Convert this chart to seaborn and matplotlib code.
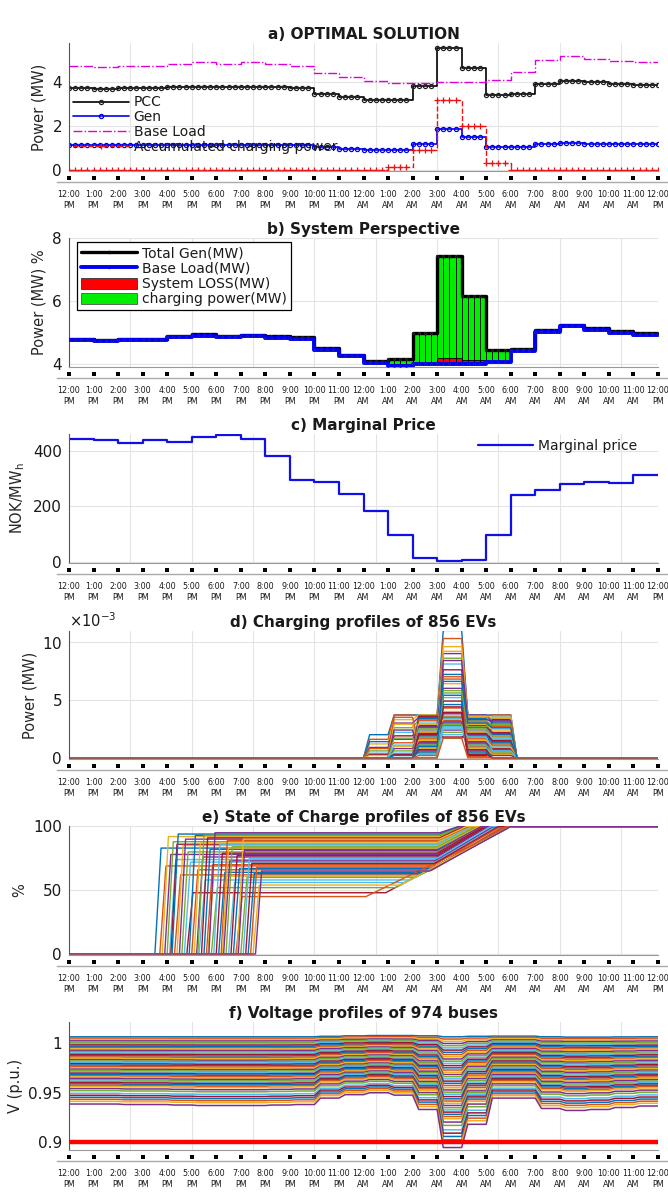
import numpy as np
import pandas as pd
import matplotlib
matplotlib.use('Agg')
import matplotlib.pyplot as plt
import seaborn as sns
from matplotlib.lines import Line2D
from matplotlib.patches import Patch
from matplotlib.ticker import ScalarFormatter

sns.set_style('white')
plt.rcParams['font.family'] = ['DejaVu Sans']
plt.rcParams['text.color'] = '#1a1a1a'

# ---------------- data ----------------
tick_times = ['12:00', '1:00', '2:00', '3:00', '4:00', '5:00', '6:00', '7:00', '8:00', '9:00',
              '10:00', '11:00', '12:00', '1:00', '2:00', '3:00', '4:00', '5:00', '6:00', '7:00',
              '8:00', '9:00', '10:00', '11:00', '12:00']
tick_ampm = ['PM'] * 12 + ['AM'] * 12 + ['PM']
hours = list(range(25))

# a) optimal solution (hourly, MW)
pcc = [3.74, 3.72, 3.73, 3.73, 3.77, 3.80, 3.79, 3.80, 3.78, 3.75, 3.47, 3.33,
       3.21, 3.21, 3.82, 5.56, 4.68, 3.42, 3.49, 3.92, 4.08, 4.01, 3.93, 3.88]
gen = [1.12, 1.12, 1.12, 1.12, 1.13, 1.14, 1.14, 1.14, 1.13, 1.12, 1.03, 0.97,
       0.91, 0.91, 1.17, 1.86, 1.52, 1.03, 1.03, 1.18, 1.22, 1.20, 1.18, 1.17]
base_load_a = [4.76, 4.71, 4.76, 4.76, 4.86, 4.91, 4.86, 4.91, 4.85, 4.77, 4.44, 4.26,
               4.06, 3.98, 3.98, 4.02, 4.03, 4.09, 4.47, 5.02, 5.20, 5.09, 5.00, 4.94]
charging_a = [0, 0, 0, 0, 0, 0, 0, 0, 0, 0, 0, 0,
              0, 0.12, 0.91, 3.20, 2.02, 0.30, 0, 0, 0, 0, 0, 0]

# b) system perspective (hourly, MW)
base_load_b = [4.75, 4.72, 4.75, 4.75, 4.85, 4.89, 4.85, 4.88, 4.83, 4.79, 4.45, 4.24,
               4.03, 3.94, 3.98, 4.00, 4.01, 4.06, 4.42, 5.02, 5.19, 5.08, 4.99, 4.92]
loss_b = [0.05, 0.05, 0.05, 0.05, 0.05, 0.05, 0.05, 0.05, 0.05, 0.05, 0.04, 0.04,
          0.05, 0.04, 0.06, 0.20, 0.12, 0.04, 0.04, 0.05, 0.06, 0.05, 0.05, 0.05]
charging_b = [0, 0, 0, 0, 0, 0, 0, 0, 0, 0, 0, 0,
              0, 0.16, 0.93, 3.22, 2.02, 0.33, 0, 0, 0, 0, 0, 0]

# c) marginal price (NOK/MWh, hourly)
price = [443, 439, 431, 439, 434, 451, 458, 444, 384, 294, 289, 244,
         185, 96, 14, 1, 7, 96, 240, 261, 282, 288, 284, 312]

# d) EV charging power, x1e-3 MW, hours 12AM..5AM
ev_power = [
    [2.0, 3.7, 3.7, 11.0, 3.7, 3.7], [1.6, 3.7, 3.6, 10.3, 3.6, 3.7],
    [1.2, 3.3, 3.7, 9.6, 3.5, 3.4], [0.9, 3.0, 3.5, 9.0, 3.7, 3.1],
    [0.6, 2.6, 3.3, 8.6, 3.2, 2.8], [0.4, 2.2, 3.0, 8.1, 3.0, 2.5],
    [0.3, 1.9, 2.8, 7.6, 2.8, 2.2], [1.4, 1.6, 2.6, 7.2, 2.6, 2.0],
    [0.8, 1.3, 2.4, 6.8, 2.4, 1.8], [0.2, 1.0, 2.2, 6.4, 2.2, 1.6],
    [0.0, 0.8, 2.0, 6.0, 2.0, 1.4], [0.0, 0.6, 1.8, 5.6, 1.8, 1.2],
    [0.0, 0.4, 1.6, 5.2, 1.6, 1.0], [0.0, 0.3, 1.4, 4.9, 1.4, 0.8],
    [0.0, 0.2, 1.2, 4.6, 1.2, 0.6], [0.0, 3.5, 1.0, 4.3, 1.0, 0.4],
    [0.0, 2.9, 0.8, 4.0, 0.8, 0.3], [0.0, 2.4, 0.6, 3.8, 0.6, 0.2],
    [0.0, 1.7, 0.4, 3.6, 0.4, 0.0], [0.0, 1.1, 0.3, 3.4, 0.3, 3.6],
    [0.0, 0.0, 3.6, 3.2, 0.2, 3.3], [0.0, 0.0, 3.4, 3.0, 3.4, 3.0],
    [0.0, 0.0, 3.2, 2.8, 3.1, 2.7], [0.0, 0.0, 2.9, 2.6, 2.9, 2.4],
    [0.0, 0.0, 2.7, 2.4, 2.7, 2.1], [0.0, 0.0, 2.5, 2.2, 2.5, 1.9],
    [0.0, 0.0, 2.3, 2.0, 2.3, 1.7], [0.0, 0.0, 2.1, 1.8, 2.1, 1.5],
    [0.0, 0.0, 1.9, 1.7, 1.9, 1.3], [0.0, 0.0, 1.7, 3.5, 1.7, 1.1],
    [0.0, 0.0, 1.5, 3.3, 1.5, 0.9], [0.0, 0.0, 1.3, 3.1, 1.3, 0.7],
    [0.0, 0.0, 1.1, 2.9, 1.1, 0.5], [0.0, 0.0, 0.9, 2.7, 0.9, 0.0],
    [0.0, 0.0, 0.7, 4.4, 0.7, 0.0], [0.0, 0.0, 0.5, 5.4, 0.5, 0.0],
    [0.0, 0.0, 0.2, 7.0, 0.1, 0.0], [0.0, 0.0, 0.0, 9.2, 3.6, 3.5],
    [0.0, 0.0, 0.0, 8.4, 3.3, 3.2], [0.0, 0.0, 0.0, 5.8, 2.7, 2.9],
    [0.0, 0.0, 0.0, 2.5, 1.8, 0.6], [0.0, 0.0, 2.0, 3.9, 0.3, 0.0],
    [0.0, 0.0, 1.0, 6.6, 3.0, 2.6], [0.0, 0.0, 0.0, 1.7, 0.0, 0.0],
]

# e) SOC: arrival (h after 12PM), initial SOC %, charge start (h), full (h)
ev_soc = [
    (3.5, 83, 15.0, 16.6), (3.7, 69, 15.0, 17.7), (3.8, 92, 15.1, 16.0), (3.9, 78, 15.0, 17.0),
    (4.0, 88, 15.0, 16.3), (4.1, 74, 14.9, 17.3), (4.15, 86, 15.0, 16.5), (4.2, 94, 15.1, 15.9),
    (4.3, 62, 14.3, 18.0), (4.4, 85, 15.0, 16.5), (4.5, 90, 15.1, 16.2), (4.6, 80, 15.0, 16.9),
    (4.7, 72, 14.9, 17.4), (4.8, 48, 12.9, 18.0), (4.9, 93, 15.1, 16.0), (5.0, 66, 14.8, 17.9),
    (5.1, 87, 15.0, 16.4), (5.2, 76, 15.0, 17.1), (5.25, 93, 15.1, 16.0), (5.3, 58, 13.9, 18.0),
    (5.4, 91, 15.1, 16.1), (5.5, 82, 15.0, 16.7), (5.6, 70, 14.9, 17.6), (5.65, 61, 14.2, 18.0),
    (5.7, 95, 15.1, 15.9), (5.8, 52, 13.3, 18.0), (5.9, 86, 15.0, 16.4), (6.0, 79, 15.0, 16.9),
    (6.1, 64, 14.5, 18.0), (6.2, 89, 15.0, 16.3), (6.25, 83, 15.0, 16.7), (6.3, 73, 14.9, 17.3),
    (6.4, 84, 15.0, 16.6), (6.5, 56, 13.7, 18.0), (6.6, 77, 15.0, 17.0), (6.7, 67, 14.8, 17.8),
    (6.8, 45, 12.1, 18.0), (6.85, 90, 15.1, 16.2), (6.9, 81, 15.0, 16.8), (7.0, 60, 14.1, 18.0),
    (7.1, 75, 15.0, 17.2), (7.2, 71, 14.9, 17.5), (7.3, 63, 14.4, 18.0), (7.4, 68, 14.9, 17.8),
    (7.5, 54, 13.5, 18.0), (7.6, 65, 14.7, 18.0),
]

# f) voltages: nearest bus, weakest bus (hourly, p.u.) and relative depth of each bus
bus_v_top = [1.0065, 1.0065, 1.0065, 1.0065, 1.0065, 1.0065, 1.0065, 1.0065, 1.0065, 1.0065,
             1.0070, 1.0075, 1.0078, 1.0078, 1.0075, 1.0065, 1.0070, 1.0072, 1.0072, 1.0065,
             1.0062, 1.0062, 1.0064, 1.0065]
bus_v_bottom = [0.9385, 0.9385, 0.9380, 0.9380, 0.9375, 0.9370, 0.9370, 0.9370, 0.9375, 0.9380,
                0.9445, 0.9480, 0.9500, 0.9475, 0.9330, 0.8945, 0.9180, 0.9445, 0.9445, 0.9340,
                0.9320, 0.9330, 0.9350, 0.9365]
bus_depth = [0.00, 0.02, 0.04, 0.06, 0.08, 0.10, 0.12, 0.14, 0.16, 0.18, 0.20, 0.22, 0.24,
             0.26, 0.28, 0.30, 0.32, 0.34, 0.36, 0.38, 0.40, 0.42, 0.44, 0.46, 0.48, 0.50,
             0.52, 0.54, 0.56, 0.58, 0.60, 0.62, 0.64, 0.66, 0.68, 0.70, 0.72, 0.74, 0.77,
             0.80, 0.84, 0.87, 0.90, 0.93, 0.96, 1.00]

matlab_colors = ['#0072BD', '#D95319', '#EDB120', '#7E2F8E', '#77AC30', '#4DBEEE', '#A2142F']

# ---------------- layout ----------------
W, H = 668, 1195
fig = plt.figure(figsize=(W / 100, H / 100), dpi=100)
fig.patch.set_facecolor('white')
L, R = 69, 658
PX_H = (R - L) / 24.0
panels = [(43, 171), (238, 367), (434, 563), (631, 759), (826, 955), (1022, 1150)]

grid_x = [2.5, 5, 7.5, 10, 12.5, 15, 17.5, 20, 22.5]


def main_ax(top, bot):
    ax = fig.add_axes([L / W, 1 - bot / H, (R - L) / W, (bot - top) / H])
    ax.set_xlim(0, 24)
    ax.set_xticks(grid_x)
    ax.tick_params(axis='x', direction='in', length=3, color='#888888', labelbottom=False)
    ax.tick_params(axis='y', direction='in', length=3, color='#444444', labelsize=11,
                   pad=5, labelcolor='#1a1a1a')
    ax.grid(True, color='#e4e4e4', lw=0.8)
    ax.set_axisbelow(True)
    for s in ['top', 'right']:
        ax.spines[s].set_visible(False)
    ax.spines['left'].set_color('#555555')
    ax.spines['left'].set_linewidth(0.8)
    ax.spines['bottom'].set_color('#999999')
    ax.spines['bottom'].set_linewidth(0.8)
    return ax


def strip_ax(bot):
    ax = fig.add_axes([57 / W, 1 - (bot + 11) / H, 611 / W, 8 / H])
    ax.set_xlim(-12 / PX_H, 24 + 10 / PX_H)
    ax.set_ylim(0, 1)
    ax.patch.set_alpha(0)
    sns.scatterplot(x=hours, y=[0.5] * 25, marker='s', color='black', s=9, linewidth=0, ax=ax)
    for s in ['top', 'right', 'left']:
        ax.spines[s].set_visible(False)
    ax.spines['bottom'].set_color('#aaaaaa')
    ax.spines['bottom'].set_linewidth(1.0)
    ax.set_yticks([])
    ax.set_xticks(hours)
    ax.set_xticklabels([f'{t}\n{a}' for t, a in zip(tick_times, tick_ampm)],
                       fontsize=5.8, linespacing=1.3)
    ax.tick_params(axis='x', length=0, pad=6, labelcolor='#1a1a1a')
    ax.set_xlabel('')
    ax.set_ylabel('')
    return ax


xq = np.arange(97) / 4.0


def q(v):
    v = np.asarray(v, dtype=float)
    return np.append(np.repeat(v, 4), v[-1])


title_kw = dict(fontsize=11, fontweight='bold', pad=3)
ylab_kw = dict(fontsize=10.5)

# ---------------- a) ----------------
ax = main_ax(*panels[0])
line_kw = dict(estimator=None, errorbar=None, drawstyle='steps-post', ax=ax)
sns.lineplot(x=xq, y=q(pcc), color='black', linewidth=1.2, marker='o', markersize=3,
             markerfacecolor='none', markeredgecolor='#222222', markeredgewidth=0.9, **line_kw)
sns.lineplot(x=xq, y=q(gen), color='#0000ee', linewidth=1.2, marker='o', markersize=3,
             markerfacecolor='none', markeredgecolor='#0000ee', markeredgewidth=0.9, **line_kw)
sns.lineplot(x=xq, y=q(base_load_a), color='#dd00dd', linewidth=1.0, linestyle='-.', **line_kw)
sns.lineplot(x=xq, y=q(charging_a), color='#ee1111', linewidth=1.0, linestyle='--', marker='+',
             markersize=4, markeredgecolor='#ee1111', markeredgewidth=0.9, **line_kw)
ax.set_ylim(-0.05, 5.8)
ax.set_yticks([0, 2, 4])
ax.set_xlim(0, 24)
ax.set_title('a) OPTIMAL SOLUTION', **title_kw)
ax.set_ylabel('Power (MW)', **ylab_kw)
ax.yaxis.set_label_coords(-0.039, 0.5)
ax.set_xlabel('')
handles = [
    Line2D([], [], color='black', lw=1.2, marker='o', ms=3, mfc='none', mec='#222222', mew=0.9),
    Line2D([], [], color='#0000ee', lw=1.2, marker='o', ms=3, mfc='none', mec='#0000ee', mew=0.9),
    Line2D([], [], color='#dd00dd', lw=1.0, ls='-.'),
    Line2D([], [], color='#ee1111', lw=1.0, ls='--', marker='+', ms=4, mew=0.9),
]
ax.legend(handles, ['PCC', 'Gen', 'Base Load', 'Accumulated charging power'], loc='upper left',
          bbox_to_anchor=(0.007, 0.59), frameon=False, fontsize=10, handlelength=4.0,
          handletextpad=0.35, labelspacing=0.05, borderpad=0, borderaxespad=0, numpoints=1)
strip_ax(panels[0][1])

# ---------------- b) ----------------
ax = main_ax(*panels[1])
bq = q(base_load_b)[:-1]
lq = q(loss_b)[:-1]
cq = q(charging_b)[:-1]
ax.bar(xq[:-1], lq, bottom=bq, width=0.25, align='edge', color='#ff0000',
       edgecolor='black', linewidth=0.6, zorder=2)
ax.bar(xq[:-1], cq, bottom=bq + lq, width=0.25, align='edge', color='#00ee00',
       edgecolor='black', linewidth=0.6, zorder=2)
total_b = np.asarray(base_load_b) + np.asarray(loss_b) + np.asarray(charging_b)
line_kw = dict(estimator=None, errorbar=None, drawstyle='steps-post', ax=ax)
sns.lineplot(x=xq, y=q(total_b), color='black', linewidth=2.4, marker='.', markersize=3,
             markeredgecolor='#333333', markeredgewidth=0.5, zorder=3, **line_kw)
sns.lineplot(x=xq, y=q(base_load_b), color='#0000f0', linewidth=2.8, marker='.', markersize=3,
             markeredgecolor='#2222aa', markeredgewidth=0.5, zorder=4, **line_kw)
ax.set_ylim(3.9, 8.0)
ax.set_yticks([4, 6, 8])
ax.set_xlim(0, 24)
ax.set_title('b) System Perspective', **title_kw)
ax.set_ylabel('Power (MW) %', **ylab_kw)
ax.yaxis.set_label_coords(-0.039, 0.5)
ax.set_xlabel('')
handles = [
    Line2D([], [], color='black', lw=2.4, marker='.', ms=3),
    Line2D([], [], color='#0000f0', lw=2.8, marker='.', ms=3),
    Patch(facecolor='#ff0000', edgecolor='#333333', linewidth=0.6),
    Patch(facecolor='#00ee00', edgecolor='#555555', linewidth=0.6),
]
leg = ax.legend(handles, ['Total Gen(MW)', 'Base Load(MW)', 'System LOSS(MW)', 'charging power(MW)'],
                loc='upper left', bbox_to_anchor=(0.0136, 0.969), frameon=True, fancybox=False,
                fontsize=10, handlelength=4.0, handleheight=0.85, handletextpad=0.35,
                labelspacing=0.1, borderpad=0.3, borderaxespad=0, edgecolor='black', framealpha=1)
leg.get_frame().set_linewidth(0.9)
strip_ax(panels[1][1])

# ---------------- c) ----------------
ax = main_ax(*panels[2])
sns.lineplot(x=hours, y=price + [price[-1]], color='#1010e8', linewidth=1.6,
             drawstyle='steps-post', estimator=None, errorbar=None, ax=ax)
ax.set_ylim(-5, 462)
ax.set_yticks([0, 200, 400])
ax.set_xlim(0, 24)
ax.set_title('c) Marginal Price', **title_kw)
ax.set_ylabel('NOK/MW$_\\mathregular{h}$', **ylab_kw)
ax.yaxis.set_label_coords(-0.071, 0.5)
ax.set_xlabel('')
ax.legend([Line2D([], [], color='#1010e8', lw=1.6)], ['Marginal price'], loc='upper right',
          bbox_to_anchor=(0.965, 0.965), frameon=False, fontsize=10, handlelength=4.0,
          handletextpad=0.35, borderpad=0, borderaxespad=0)
strip_ax(panels[2][1])

# ---------------- d) ----------------
ax = main_ax(*panels[3])
rows = []
for i, vals in enumerate(ev_power):
    xs, ys = [0.0, 12.0], [0.0, 0.0]
    for k, v in enumerate(vals):
        h = 12 + k
        xs += [h + 0.25, h + 1.0]
        ys += [v * 1e-3, v * 1e-3]
    xs += [18.25, 24.0]
    ys += [0.0, 0.0]
    rows += [(i, x, y) for x, y in zip(xs, ys)]
df_d = pd.DataFrame(rows, columns=['ev', 't', 'p'])
pal_d = [matlab_colors[i % 7] for i in range(len(ev_power))]
sns.lineplot(data=df_d, x='t', y='p', hue='ev', palette=pal_d, estimator=None, errorbar=None,
             sort=False, legend=False, linewidth=1.0, ax=ax)
ax.set_ylim(-0.1e-3, 10.95e-3)
ax.set_yticks([0, 0.005, 0.01])
fmt = ScalarFormatter(useMathText=True)
fmt.set_powerlimits((-3, -3))
ax.yaxis.set_major_formatter(fmt)
ax.yaxis.get_offset_text().set_fontsize(10.5)
ax.set_xlim(0, 24)
ax.set_title('d) Charging profiles of 856 EVs', **title_kw)
ax.set_ylabel('Power (MW)', **ylab_kw)
ax.yaxis.set_label_coords(-0.053, 0.5)
ax.set_xlabel('')
strip_ax(panels[3][1])

# ---------------- e) ----------------
ax = main_ax(*panels[4])
rows = []
for i, (ta, s0, tc, tf) in enumerate(ev_soc):
    xs = [0.0, ta, ta + 0.25, tc, tf, 24.0]
    ys = [0.0, 0.0, s0, s0, 100.0, 100.0]
    rows += [(i, x, y) for x, y in zip(xs, ys)]
df_e = pd.DataFrame(rows, columns=['ev', 't', 'soc'])
pal_e = [matlab_colors[i % 7] for i in range(len(ev_soc))]
sns.lineplot(data=df_e, x='t', y='soc', hue='ev', palette=pal_e, estimator=None, errorbar=None,
             sort=False, legend=False, linewidth=1.0, ax=ax)
ax.set_ylim(-0.8, 100.3)
ax.set_yticks([0, 50, 100])
ax.set_xlim(0, 24)
ax.set_title('e) State of Charge profiles of 856 EVs', **title_kw)
ax.set_ylabel('%', **ylab_kw)
ax.yaxis.set_label_coords(-0.071, 0.5)
ax.set_xlabel('')
strip_ax(panels[4][1])

# ---------------- f) ----------------
ax = main_ax(*panels[5])
rows = []
top = np.asarray(bus_v_top)
bottom = np.asarray(bus_v_bottom)
for i, d in enumerate(bus_depth):
    v = top - d * (top - bottom)
    xs, ys = [0.0], [v[0]]
    for h in range(1, 24):
        xs += [float(h), h + 0.25]
        ys += [v[h - 1], v[h]]
    xs += [24.0]
    ys += [v[23]]
    rows += [(i, x, y) for x, y in zip(xs, ys)]
df_f = pd.DataFrame(rows, columns=['bus', 't', 'v'])
pal_f = [matlab_colors[i % 7] for i in range(len(bus_depth))]
sns.lineplot(data=df_f, x='t', y='v', hue='bus', palette=pal_f, estimator=None, errorbar=None,
             sort=False, legend=False, linewidth=1.1, ax=ax)
ax.axhline(0.9, color='#ff0000', lw=3.2, zorder=10)
ax.set_ylim(0.892, 1.0215)
ax.set_yticks([0.9, 0.95, 1.0])
ax.set_yticklabels(['0.9', '0.95', '1'])
ax.set_xlim(0, 24)
ax.set_title('f) Voltage profiles of 974 buses', **title_kw)
ax.set_ylabel('V (p.u.)', **ylab_kw)
ax.yaxis.set_label_coords(-0.078, 0.5)
ax.set_xlabel('')
strip_ax(panels[5][1])

fig.savefig('out.png', dpi=100, facecolor='white')
